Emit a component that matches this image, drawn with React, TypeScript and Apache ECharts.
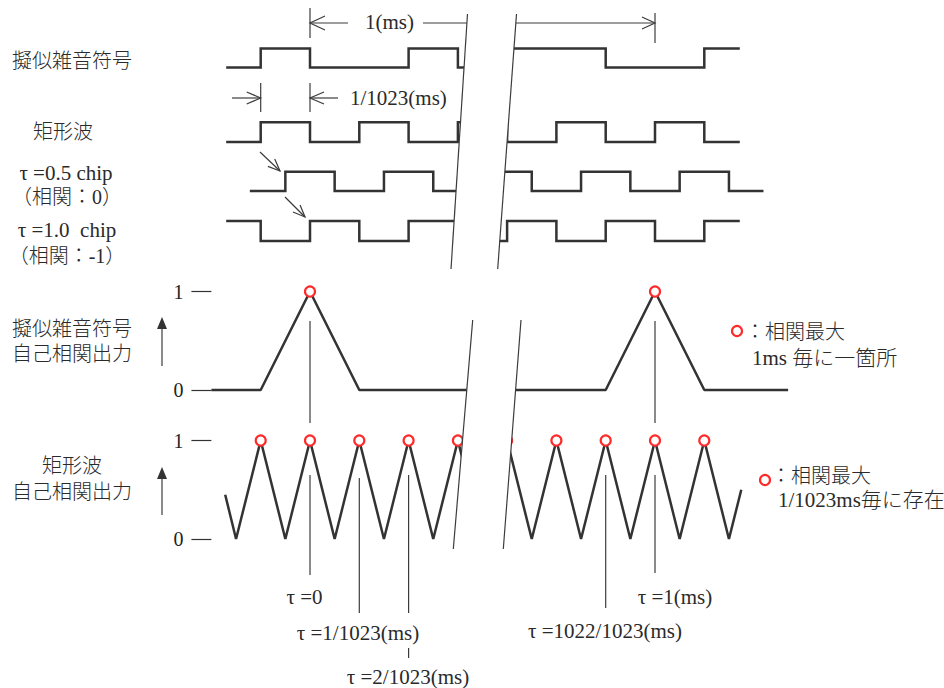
import React, { useEffect, useRef } from "react";
import * as echarts from "echarts";

type Pt = [number, number];

// ---------------- data (time in chips, 1 chip = 1/1023 ms) ----------------
// step waveforms: [time, level from this time on]
const pnCodeLeft: Pt[] = [[-1.7, 0], [-1, 1], [0, 0], [2, 1], [3, 0], [3.5, 0]];
const pnCodeRight: Pt[] = [[1019.4, 1], [1022, 0], [1024, 1], [1024.72, 1]];
const rectLeft: Pt[] = [[-1.7, 0], [-1, 1], [0, 0], [1, 1], [2, 0], [3, 1], [3.5, 1]];
const rectRight: Pt[] = [[1019.4, 1], [1020, 0], [1021, 1], [1022, 0], [1023, 1], [1024, 0], [1024.72, 0]];
const tau05Left: Pt[] = [[-1.22, 0], [-0.5, 1], [0.5, 0], [1.5, 1], [2.5, 0], [3.5, 0]];
const tau05Right: Pt[] = [[1019.4, 1], [1020.5, 0], [1021.5, 1], [1022.5, 0], [1023.5, 1], [1024.5, 0], [1025.2, 0]];
const tau10Left: Pt[] = [[-1.7, 1], [-1, 0], [0, 1], [1, 0], [2, 1], [3, 0], [3.5, 0]];
const tau10Right: Pt[] = [[1019.4, 0], [1020, 1], [1021, 0], [1022, 1], [1023, 0], [1024, 1], [1024.72, 1]];
// autocorrelation outputs: [tau, correlation]
const pnCorrLeft: Pt[] = [[-2, 0], [-1, 0], [0, 1], [1, 0], [3.5, 0]];
const pnCorrRight: Pt[] = [[1019.4, 0], [1022, 0], [1023, 1], [1024, 0], [1025.7, 0]];
const rectCorrLeft: Pt[] = [[-1.72, 0.45], [-1.5, 0], [-1, 1], [-0.5, 0], [0, 1], [0.5, 0], [1, 1], [1.5, 0], [2, 1], [2.5, 0], [3, 1], [3.5, 0]];
const rectCorrRight: Pt[] = [[1019.4, 0.2], [1019.5, 0], [1020, 1], [1020.5, 0], [1021, 1], [1021.5, 0], [1022, 1], [1022.5, 0], [1023, 1], [1023.5, 0], [1024, 1], [1024.5, 0], [1024.75, 0.5]];
// correlation maxima (tau values)
const pnPeaksLeft = [0];
const pnPeaksRight = [1023];
const rectPeaksLeft = [-1, 0, 1, 2, 3];
const rectPeaksRight = [1020, 1021, 1022, 1023, 1024];
// texts
const waveLabels = ["擬似雑音符号", "矩形波", "τ =0.5 chip", "（相関：0）", "τ =1.0  chip", "（相関：-1）"];
const corrLabelsPn = ["擬似雑音符号", "自己相関出力"];
const corrLabelsRect = ["矩形波", "自己相関出力"];
const legendPn = ["：相関最大", "1ms 毎に一箇所"];
const legendRect = ["：相関最大", "1/1023ms毎に存在"];
const tauLabels = ["τ =0", "τ =1/1023(ms)", "τ =2/1023(ms)", "τ =1022/1023(ms)", "τ =1(ms)"];
const spanLabels = ["1(ms)", "1/1023(ms)"];

// ---------------- layout ----------------
const CHIP = 49.3;
const X_T0 = 310;
const X_T1023 = 655;
const RANGES: [number, number][] = [[-2, 3.6], [1019.4, 1026]];
const ROWS: [number, number][] = [[48.5, 67.5], [122.3, 142], [171.7, 191], [221, 241], [291.5, 390], [440.5, 539]];
const INK = "#333";
const THIN = "#3c3c3c";
const RED = "#ff2b2b";
const CJK = '300 20px "Liberation Serif", "Noto Sans CJK JP"';
const SERIF = '300 21px "Liberation Serif", "Noto Sans CJK JP"';

const gi = (r: number, s: number) => r * 2 + s;

function buildOption() {
  const grid: any[] = [], xAxis: any[] = [], yAxis: any[] = [], series: any[] = [];
  const waves: [Pt[], Pt[], any][] = [
    [pnCodeLeft, pnCodeRight, "end"],
    [rectLeft, rectRight, "end"],
    [tau05Left, tau05Right, "end"],
    [tau10Left, tau10Right, "end"],
    [pnCorrLeft, pnCorrRight, false],
    [rectCorrLeft, rectCorrRight, false],
  ];
  const peaks: Record<number, [number[], number[]]> = {
    4: [pnPeaksLeft, pnPeaksRight],
    5: [rectPeaksLeft, rectPeaksRight],
  };
  for (let r = 0; r < ROWS.length; r++) {
    for (let s = 0; s < 2; s++) {
      const [mn, mx] = RANGES[s];
      const left = s === 0 ? X_T0 + mn * CHIP : X_T1023 + (mn - 1023) * CHIP;
      grid.push({ left, top: ROWS[r][0], width: (mx - mn) * CHIP, height: ROWS[r][1] - ROWS[r][0], outerBoundsMode: "none", containLabel: false });
      xAxis.push({ gridIndex: gi(r, s), type: "value", min: mn, max: mx, show: false });
      const withTicks = s === 0 && r >= 4;
      yAxis.push({
        gridIndex: gi(r, s), type: "value", min: 0, max: 1, interval: 1, show: withTicks, position: "left",
        axisLine: { show: false, onZero: false }, splitLine: { show: false },
        axisTick: { show: withTicks, inside: false, length: 20, lineStyle: { color: INK, width: 1.2 } },
        axisLabel: { show: withTicks, margin: 28, color: "#222", fontFamily: "Liberation Serif", fontSize: 20 },
      });
      const [dl, dr, step] = waves[r];
      series.push({
        type: "line", xAxisIndex: gi(r, s), yAxisIndex: gi(r, s), data: s === 0 ? dl : dr,
        step, symbol: "none", showSymbol: false, clip: false, silent: true, z: 2,
        lineStyle: { color: INK, width: 2.5, join: step ? "miter" : "bevel", cap: "butt" },
      });
      if (peaks[r]) {
        series.push({
          type: "scatter", xAxisIndex: gi(r, s), yAxisIndex: gi(r, s),
          data: peaks[r][s].map((t) => [t, 1]), symbol: "circle", symbolSize: 10, clip: false, silent: true, z: 5,
          itemStyle: { color: "#fff", borderColor: RED, borderWidth: 2.2, opacity: 1 },
        });
      }
    }
  }
  return { animation: false, backgroundColor: "#fff", grid, xAxis, yAxis, series };
}

function buildGraphics(chart: any) {
  const xAt = (s: number, t: number) => (chart.convertToPixel({ gridIndex: gi(0, s) }, [t, 0]) as number[])[0];
  const els: any[] = [];
  const line = (x1: number, y1: number, x2: number, y2: number, w = 1.2, z = 110) =>
    els.push({ type: "line", z, silent: true, shape: { x1, y1, x2, y2 }, style: { stroke: THIN, lineWidth: w } });
  const head = (tx: number, ty: number, dx: number, dy: number, len = 14, half = 6) => {
    const n = Math.hypot(dx, dy); dx /= n; dy /= n;
    const bx = tx - dx * len, by = ty - dy * len, px = -dy, py = dx;
    els.push({ type: "polyline", z: 110, silent: true, shape: { points: [[bx + px * half, by + py * half], [tx, ty], [bx - px * half, by - py * half]] }, style: { stroke: THIN, lineWidth: 1.2, fill: null } });
  };
  const text = (t: string, x: number, y: number, font: string, align = "left") =>
    els.push({ type: "text", z: 120, silent: true, style: { text: t, x, y, font, fill: "#2a2a2a", align, textAlign: align, verticalAlign: "middle", textVerticalAlign: "middle" } });
  const upArrow = (x: number, y1: number, y2: number) => {
    line(x, y2, x, y1 + 8);
    els.push({ type: "polygon", z: 110, silent: true, shape: { points: [[x - 5, y1 + 12], [x, y1], [x + 5, y1 + 12]] }, style: { fill: INK } });
  };

  // break marks (parallel slanted lines with blank between)
  const breaks: { l: Pt[]; r: Pt[] }[] = [
    { l: [[467.5, 14], [451, 269]], r: [[516.5, 14], [497.7, 269]] },
    { l: [[472.7, 320], [453.3, 549]], r: [[521, 320], [503.3, 549]] },
  ];
  const bx = (seg: Pt[], y: number) => seg[0][0] + (seg[1][0] - seg[0][0]) * (y - seg[0][1]) / (seg[1][1] - seg[0][1]);
  breaks.forEach((b) => {
    els.push({ type: "polygon", z: 100, silent: true, shape: { points: [b.l[0], b.r[0], b.r[1], b.l[1]] }, style: { fill: "#fff" } });
    line(b.l[0][0], b.l[0][1], b.l[1][0], b.l[1][1], 1.2, 101);
    line(b.r[0][0], b.r[0][1], b.r[1][0], b.r[1][1], 1.2, 101);
  });

  const x0 = xAt(0, 0), xm1 = xAt(0, -1), x1 = xAt(0, 1), x2 = xAt(0, 2);
  const x1022 = xAt(1, 1022), x1023 = xAt(1, 1023);

  // 1(ms) span
  line(x0, 8, x0, 38);
  line(x0, 23, 348, 23); head(x0, 23, -1, 0, 15, 7);
  text(spanLabels[0], 389.5, 22, SERIF, "center");
  line(423, 23, bx(breaks[0].l, 23), 23);
  line(bx(breaks[0].r, 23), 23, x1023, 23); head(x1023, 23, 1, 0, 13, 6);
  line(x1023, 13, x1023, 43);
  // 1/1023(ms) span
  line(xm1, 83, xm1, 112); line(x0, 83, x0, 112);
  line(232, 98, xm1, 98); head(xm1, 98, 1, 0, 14, 6);
  line(x0, 98, 338, 98); head(x0, 98, -1, 0, 14, 6);
  text(spanLabels[1], 350, 98, SERIF, "left");
  // delay arrows
  line(260, 152, 280, 171); head(280, 171, 20, 19, 12, 5);
  line(285, 197, 305, 217); head(305, 217, 20, 20, 12, 5);

  // left labels
  text(waveLabels[0], 12, 61, CJK, "left");
  text(waveLabels[1], 63, 132, CJK, "center");
  text(waveLabels[2], 66, 172.5, SERIF, "center");
  text(waveLabels[3], 67, 196.5, CJK, "center");
  text(waveLabels[4], 67, 230, SERIF, "center");
  text(waveLabels[5], 67, 256, CJK, "center");
  text(corrLabelsPn[0], 12, 329, CJK, "left");
  text(corrLabelsPn[1], 12, 354, CJK, "left");
  text(corrLabelsRect[0], 72, 466, CJK, "center");
  text(corrLabelsRect[1], 12, 492, CJK, "left");
  upArrow(162, 317, 366);
  upArrow(162, 467, 515);

  // legends
  els.push({ type: "circle", z: 110, silent: true, shape: { cx: 737, cy: 331, r: 5 }, style: { fill: "#fff", stroke: RED, lineWidth: 2.2 } });
  text(legendPn[0], 745, 332, CJK, "left");
  text(legendPn[1], 752, 358, SERIF, "left");
  els.push({ type: "circle", z: 110, silent: true, shape: { cx: 765, cy: 480, r: 5 }, style: { fill: "#fff", stroke: RED, lineWidth: 2.2 } });
  text(legendRect[0], 771, 476, CJK, "left");
  text(legendRect[1], 778, 500, SERIF, "left");

  // guide lines
  line(x0, 321, x0, 423); line(x1023, 321, x1023, 423);
  line(x0, 475, x0, 575);
  line(x1, 478, x1, 613);
  line(x2, 475, x2, 613); line(x2, 648, x2, 658);
  line(x1022, 475, x1022, 608);
  line(x1023, 475, x1023, 573);

  // tau labels
  text(tauLabels[0], 304.5, 597, SERIF, "center");
  text(tauLabels[1], 358, 633, SERIF, "center");
  text(tauLabels[2], 408, 677, SERIF, "center");
  text(tauLabels[3], 605, 631, SERIF, "center");
  text(tauLabels[4], 675, 597, SERIF, "center");
  return els;
}

export default function App() {
  const ref = useRef<HTMLDivElement>(null);
  useEffect(() => {
    const el = ref.current!;
    const chart = echarts.init(el, null, { renderer: "svg" });
    chart.setOption(buildOption());
    chart.setOption({ graphic: { elements: buildGraphics(chart) } });
    return () => chart.dispose();
  }, []);
  return <div ref={ref} style={{ position: "fixed", left: 0, top: 0, width: 944, height: 688, background: "#fff" }} />;
}
